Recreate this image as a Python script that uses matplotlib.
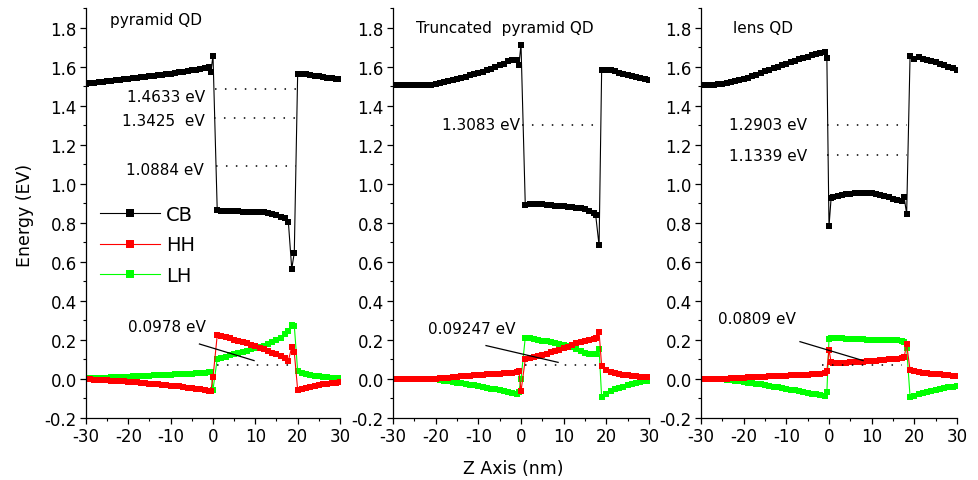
import matplotlib
matplotlib.use("Agg")
import matplotlib.pyplot as plt
from matplotlib.ticker import MultipleLocator, FormatStrFormatter

plt.rcParams["font.family"] = ["DejaVu Sans"]
plt.rcParams["axes.unicode_minus"] = False

# ---------------- data ----------------
# pyramid QD
z_pyr = list(range(-30, -1)) + [-1, -0.5, 0] + list(range(1, 18)) + [17.8, 18.6, 19.2] + list(range(20, 31))
cb_pyr = [1.513, 1.515, 1.518, 1.520, 1.523, 1.525, 1.528, 1.530, 1.533, 1.535,
          1.537, 1.540, 1.542, 1.545, 1.547, 1.550, 1.553, 1.555, 1.558, 1.561,
          1.564, 1.567, 1.570, 1.573, 1.576, 1.580, 1.584, 1.588, 1.594,
          1.600, 1.573, 1.656,
          0.863, 0.862, 0.861, 0.860, 0.859, 0.858, 0.857, 0.856, 0.856, 0.855,
          0.855, 0.853, 0.850, 0.846, 0.840, 0.832, 0.822,
          0.805, 0.564, 0.646,
          1.564, 1.563, 1.560, 1.557, 1.553, 1.550, 1.547, 1.544, 1.541, 1.538, 1.535]
hh_pyr = [0.000, -0.001, -0.003, -0.004, -0.005, -0.007, -0.008, -0.010, -0.011, -0.013,
          -0.014, -0.016, -0.018, -0.020, -0.022, -0.024, -0.026, -0.028, -0.030, -0.032,
          -0.034, -0.036, -0.038, -0.041, -0.044, -0.047, -0.050, -0.054, -0.058,
          -0.064, -0.060, 0.009,
          0.224, 0.220, 0.215, 0.210, 0.202, 0.196, 0.190, 0.183, 0.176, 0.168,
          0.160, 0.152, 0.144, 0.135, 0.126, 0.117, 0.107,
          0.094, 0.162, 0.137,
          -0.056, -0.050, -0.045, -0.040, -0.036, -0.032, -0.028, -0.025, -0.022, -0.019, -0.017]
lh_pyr = [0.002, 0.003, 0.004, 0.005, 0.006, 0.007, 0.008, 0.009, 0.010, 0.011,
          0.012, 0.013, 0.014, 0.015, 0.016, 0.017, 0.018, 0.019, 0.020, 0.021,
          0.022, 0.023, 0.024, 0.025, 0.026, 0.027, 0.029, 0.030, 0.032,
          0.034, 0.036, -0.055,
          0.103, 0.109, 0.115, 0.121, 0.127, 0.133, 0.139, 0.145, 0.151, 0.157,
          0.164, 0.171, 0.179, 0.188, 0.198, 0.210, 0.228,
          0.248, 0.277, 0.273,
          0.040, 0.032, 0.025, 0.020, 0.016, 0.013, 0.011, 0.009, 0.007, 0.006, 0.005]

# truncated pyramid QD
z_tru = list(range(-30, -1)) + [-1, -0.5, 0] + list(range(1, 18)) + [17.5, 18.3, 18.9] + list(range(20, 31))
cb_tru = [1.505, 1.505, 1.505, 1.505, 1.505, 1.505, 1.505, 1.505, 1.505,
          1.508, 1.512, 1.517, 1.522, 1.527, 1.533, 1.538, 1.543, 1.549, 1.555, 1.561,
          1.567, 1.574, 1.582, 1.590, 1.598, 1.607, 1.615, 1.627, 1.635,
          1.633, 1.607, 1.713,
          0.893, 0.894, 0.895, 0.895, 0.894, 0.892, 0.890, 0.888, 0.886, 0.884,
          0.883, 0.881, 0.878, 0.874, 0.868, 0.860, 0.852,
          0.840, 0.684, 1.580,
          1.585, 1.583, 1.575, 1.568, 1.562, 1.556, 1.550, 1.545, 1.540, 1.536, 1.533]
hh_tru = [0.000, 0.000, 0.000, 0.000, 0.000, 0.000, 0.000, 0.000, 0.000, 0.000, 0.000,
          0.003, 0.005, 0.007, 0.009, 0.011, 0.013, 0.015, 0.017, 0.019,
          0.021, 0.022, 0.023, 0.024, 0.025, 0.026, 0.028, 0.030, 0.032,
          0.036, 0.040, -0.063,
          0.100, 0.106, 0.112, 0.118, 0.124, 0.130, 0.136, 0.142, 0.150, 0.158,
          0.166, 0.174, 0.182, 0.190, 0.196, 0.201, 0.206,
          0.210, 0.239, 0.068,
          0.045, 0.036, 0.030, 0.025, 0.021, 0.018, 0.015, 0.013, 0.011, 0.009, 0.008]
lh_tru = [0.000, 0.000, 0.000, 0.000, 0.000, 0.000, 0.000, 0.000, 0.000, 0.000, 0.000,
          -0.004, -0.008, -0.012, -0.015, -0.019, -0.022, -0.026, -0.030, -0.033,
          -0.037, -0.041, -0.045, -0.049, -0.053, -0.058, -0.063, -0.068, -0.073,
          -0.075, -0.065, 0.000,
          0.212, 0.208, 0.204, 0.200, 0.196, 0.192, 0.188, 0.184, 0.180, 0.176,
          0.170, 0.163, 0.155, 0.145, 0.135, 0.128, 0.127,
          0.130, 0.154, -0.094,
          -0.075, -0.062, -0.052, -0.045, -0.039, -0.033, -0.028, -0.023, -0.018, -0.013, -0.009]

# lens QD
z_len = list(range(-30, -1)) + [-1, -0.5, 0, 0.5] + list(range(1, 18)) + [17.6, 18.2, 19] + list(range(20, 31))
cb_len = [1.505, 1.505, 1.506, 1.507, 1.509, 1.512, 1.516, 1.521, 1.525, 1.530,
          1.535, 1.542, 1.550, 1.558, 1.566, 1.575, 1.583, 1.591, 1.599, 1.607,
          1.615, 1.623, 1.631, 1.639, 1.645, 1.651, 1.657, 1.663, 1.669,
          1.675, 1.644, 0.781, 0.928,
          0.932, 0.938, 0.942, 0.946, 0.949, 0.951, 0.952, 0.953, 0.952, 0.950,
          0.946, 0.942, 0.936, 0.930, 0.923, 0.916, 0.910,
          0.931, 0.846, 1.655,
          1.638, 1.650, 1.640, 1.634, 1.628, 1.622, 1.615, 1.608, 1.600, 1.592, 1.585]
hh_len = [0.000, 0.000, 0.000, 0.000, 0.000, 0.000,
          0.002, 0.003, 0.004, 0.005, 0.006, 0.008, 0.009, 0.010, 0.011, 0.012,
          0.013, 0.014, 0.015, 0.016, 0.017, 0.018, 0.019, 0.020, 0.021, 0.022,
          0.023, 0.025, 0.027,
          0.030, 0.040, 0.150, 0.085,
          0.082, 0.082, 0.083, 0.084, 0.085, 0.086, 0.087, 0.088, 0.090, 0.092,
          0.094, 0.096, 0.098, 0.100, 0.102, 0.104, 0.106,
          0.110, 0.179, 0.045,
          0.040, 0.036, 0.033, 0.030, 0.027, 0.025, 0.023, 0.021, 0.019, 0.017, 0.015]
lh_len = [0.000, 0.000, 0.000, 0.000, 0.000,
          -0.002, -0.004, -0.007, -0.010, -0.013, -0.016, -0.019, -0.022, -0.025, -0.028,
          -0.031, -0.035, -0.039, -0.043, -0.047, -0.051, -0.055, -0.059, -0.063, -0.067,
          -0.071, -0.075, -0.079, -0.083,
          -0.086, -0.068, 0.205, 0.212,
          0.212, 0.210, 0.208, 0.207, 0.206, 0.205, 0.204, 0.203, 0.202, 0.201,
          0.200, 0.199, 0.199, 0.198, 0.198, 0.197, 0.196,
          0.190, 0.160, -0.092,
          -0.085, -0.078, -0.072, -0.066, -0.061, -0.056, -0.051, -0.047, -0.043, -0.039, -0.035]

titles = ["pyramid QD", "Truncated  pyramid QD", "lens QD"]

# energy levels: (y of dotted line, z start, z end, label, label z, label y)
levels_pyr = [(1.483, 0.5, 19.8, "1.4633 eV", -1.9, 1.446),
              (1.338, 0.3, 19.5, "1.3425  eV", -1.9, 1.323),
              (1.091, 0.7, 19.7, "1.0884 eV", -2.3, 1.073)]
levels_tru = [(1.303, 0.2, 17.5, "1.3083 eV", -0.3, 1.303)]
levels_len = [(1.303, -0.4, 18.2, "1.2903 eV", -5.2, 1.303),
              (1.145, -0.4, 18.2, "1.1339 eV", -5.2, 1.144)]

# hole level: (y, z start, z end, label, label z, label y, pointer z0, y0, z1, y1)
hole_pyr = (0.072, 0.9, 18.2, "0.0978 eV", -20.1, 0.27, -3.2, 0.179, 9.7, 0.094)
hole_tru = (0.072, 1.0, 18.0, "0.09247 eV", -21.7, 0.256, -8.2, 0.171, 8.7, 0.085)
hole_len = (0.070, -1.7, 17.0, "0.0809 eV", -25.9, 0.308, -6.8, 0.191, 8.0, 0.094)

panels = [
    (z_pyr, cb_pyr, hh_pyr, lh_pyr, levels_pyr, hole_pyr, 86, 254, (-24.3, 1.841)),
    (z_tru, cb_tru, hh_tru, lh_tru, levels_tru, hole_tru, 393, 256, (-24.6, 1.80)),
    (z_len, cb_len, hh_len, lh_len, levels_len, hole_len, 701, 256, (-22.4, 1.80)),
]

W, H = 979, 481
fig = plt.figure(figsize=(W / 100, H / 100), dpi=100)

dot = (0, (1, 5.5))
for i, (z, cb, hh, lh, levels, hole, x0, w, tpos) in enumerate(panels):
    ax = fig.add_axes([x0 / W, 1 - 419 / H, w / W, 410 / H])
    l_cb, = ax.plot(z, cb, color="black", marker="s", ms=3.8, mew=0, lw=0.8, label="CB")
    l_lh, = ax.plot(z, lh, color="#00ff00", marker="s", ms=3.8, mew=0, lw=0.8, label="LH")
    l_hh, = ax.plot(z, hh, color="#ff0000", marker="s", ms=3.8, mew=0, lw=0.8, label="HH")

    for y, za, zb, lab, lz, ly in levels:
        ax.plot([za, zb], [y, y], color="black", lw=1.1, ls=dot)
        ax.text(lz, ly, lab, ha="right", va="center", fontsize=11)

    y, za, zb, lab, lz, ly, pz0, py0, pz1, py1 = hole
    ax.plot([za, zb], [y, y], color="black", lw=1.1, ls=dot)
    ax.plot([pz0, pz1], [py0, py1], color="black", lw=0.9)
    ax.text(lz, ly, lab, ha="left", va="center", fontsize=11)

    ax.text(tpos[0], tpos[1], titles[i], ha="left", va="center", fontsize=11)

    ax.set_xlim(-30, 30)
    ax.set_ylim(-0.2, 1.9)
    ax.xaxis.set_major_locator(MultipleLocator(10))
    ax.xaxis.set_minor_locator(MultipleLocator(5))
    ax.yaxis.set_major_locator(MultipleLocator(0.2))
    ax.yaxis.set_minor_locator(MultipleLocator(0.1))
    ax.yaxis.set_major_formatter(FormatStrFormatter("%.1f"))
    ax.spines["top"].set_visible(False)
    ax.spines["right"].set_visible(False)
    for s in ("left", "bottom"):
        ax.spines[s].set_linewidth(0.9)
    ax.tick_params(which="major", direction="out", length=4, width=0.9, labelsize=12, pad=2.5)
    ax.tick_params(which="minor", direction="out", length=2.5, width=0.8)
    ax.set_yticks([t / 10 for t in range(-2, 19, 2)])

    if i == 0:
        ax.legend(handles=[l_cb, l_hh, l_lh], loc="upper left", bbox_to_anchor=(0.025, 0.538),
                  frameon=False, fontsize=14, handlelength=3.1, handletextpad=0.3,
                  labelspacing=0.58, markerscale=1.7, borderaxespad=0)

fig.text(25 / W, 1 - 215 / H, "Energy (EV)", rotation=90, ha="center", va="center", fontsize=12.5)
fig.text(513 / W, 1 - 469 / H, "Z Axis (nm)", ha="center", va="center", fontsize=12.5)

fig.savefig("out.png", dpi=100)
